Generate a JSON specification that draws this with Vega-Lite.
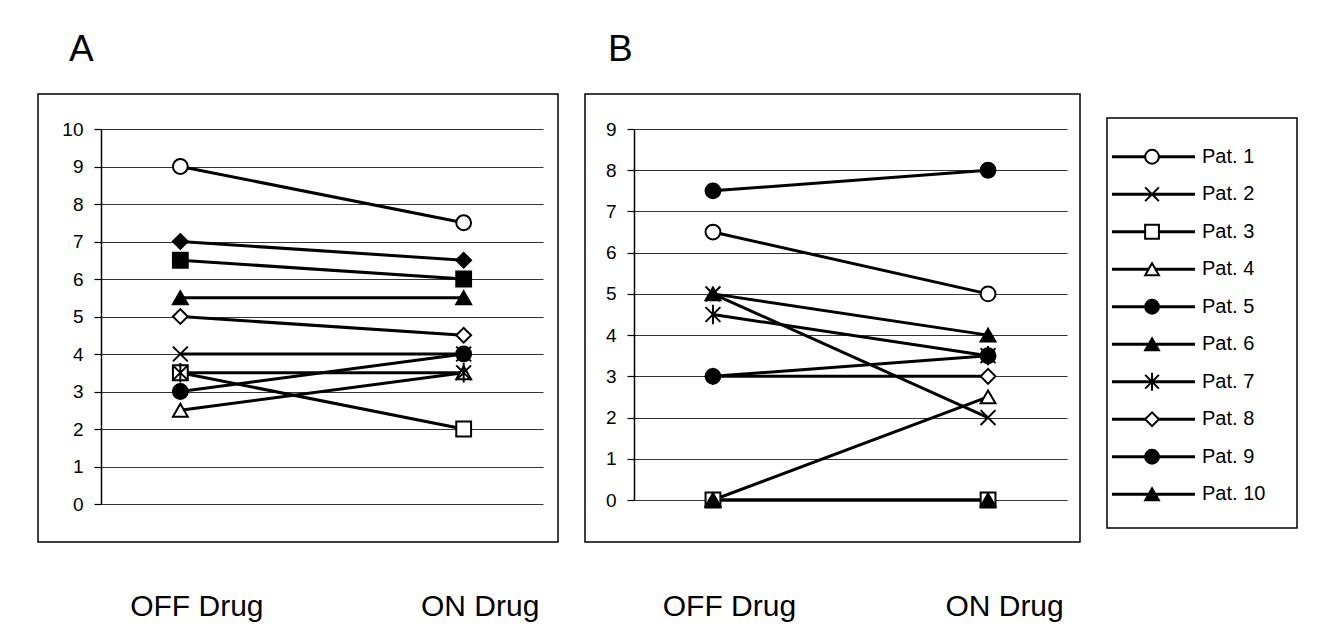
{
  "$schema": "https://vega.github.io/schema/vega-lite/v6.json",
  "padding": {"left": 37, "top": 30, "right": 0, "bottom": 0},
  "background": "white",
  "spacing": 25,
  "config": {
    "font": "Liberation Sans",
    "view": {"stroke": "black", "strokeWidth": 1.5},
    "axis": {"labelFont": "Liberation Sans", "labelColor": "black"},
    "title": {"font": "Liberation Sans", "fontSize": 37, "fontWeight": "normal", "anchor": "start", "frame": "group", "color": "black"}
  },
  "datasets": {
    "scores": [
      {"panel": "A", "patient": "Pat. 1", "condition": "OFF Drug", "score": 9},
      {"panel": "A", "patient": "Pat. 1", "condition": "ON Drug", "score": 7.5},
      {"panel": "A", "patient": "Pat. 2", "condition": "OFF Drug", "score": 4},
      {"panel": "A", "patient": "Pat. 2", "condition": "ON Drug", "score": 4},
      {"panel": "A", "patient": "Pat. 3", "condition": "OFF Drug", "score": 3.5},
      {"panel": "A", "patient": "Pat. 3", "condition": "ON Drug", "score": 2},
      {"panel": "A", "patient": "Pat. 4", "condition": "OFF Drug", "score": 2.5},
      {"panel": "A", "patient": "Pat. 4", "condition": "ON Drug", "score": 3.5},
      {"panel": "A", "patient": "Pat. 5", "condition": "OFF Drug", "score": 3},
      {"panel": "A", "patient": "Pat. 5", "condition": "ON Drug", "score": 4},
      {"panel": "A", "patient": "Pat. 6", "condition": "OFF Drug", "score": 5.5},
      {"panel": "A", "patient": "Pat. 6", "condition": "ON Drug", "score": 5.5},
      {"panel": "A", "patient": "Pat. 7", "condition": "OFF Drug", "score": 3.5},
      {"panel": "A", "patient": "Pat. 7", "condition": "ON Drug", "score": 3.5},
      {"panel": "A", "patient": "Pat. 8", "condition": "OFF Drug", "score": 5},
      {"panel": "A", "patient": "Pat. 8", "condition": "ON Drug", "score": 4.5},
      {"panel": "A", "patient": "Pat. 9", "condition": "OFF Drug", "score": 7},
      {"panel": "A", "patient": "Pat. 9", "condition": "ON Drug", "score": 6.5},
      {"panel": "A", "patient": "Pat. 10", "condition": "OFF Drug", "score": 6.5},
      {"panel": "A", "patient": "Pat. 10", "condition": "ON Drug", "score": 6},
      {"panel": "B", "patient": "Pat. 1", "condition": "OFF Drug", "score": 6.5},
      {"panel": "B", "patient": "Pat. 1", "condition": "ON Drug", "score": 5},
      {"panel": "B", "patient": "Pat. 2", "condition": "OFF Drug", "score": 5},
      {"panel": "B", "patient": "Pat. 2", "condition": "ON Drug", "score": 2},
      {"panel": "B", "patient": "Pat. 3", "condition": "OFF Drug", "score": 0},
      {"panel": "B", "patient": "Pat. 3", "condition": "ON Drug", "score": 0},
      {"panel": "B", "patient": "Pat. 4", "condition": "OFF Drug", "score": 0},
      {"panel": "B", "patient": "Pat. 4", "condition": "ON Drug", "score": 2.5},
      {"panel": "B", "patient": "Pat. 5", "condition": "OFF Drug", "score": 7.5},
      {"panel": "B", "patient": "Pat. 5", "condition": "ON Drug", "score": 8},
      {"panel": "B", "patient": "Pat. 6", "condition": "OFF Drug", "score": 5},
      {"panel": "B", "patient": "Pat. 6", "condition": "ON Drug", "score": 4},
      {"panel": "B", "patient": "Pat. 7", "condition": "OFF Drug", "score": 4.5},
      {"panel": "B", "patient": "Pat. 7", "condition": "ON Drug", "score": 3.5},
      {"panel": "B", "patient": "Pat. 8", "condition": "OFF Drug", "score": 3},
      {"panel": "B", "patient": "Pat. 8", "condition": "ON Drug", "score": 3},
      {"panel": "B", "patient": "Pat. 9", "condition": "OFF Drug", "score": 3},
      {"panel": "B", "patient": "Pat. 9", "condition": "ON Drug", "score": 3.5},
      {"panel": "B", "patient": "Pat. 10", "condition": "OFF Drug", "score": 0},
      {"panel": "B", "patient": "Pat. 10", "condition": "ON Drug", "score": 0}
    ]
  },
  "hconcat": [
    {
      "width": 520,
      "height": 448,
      "title": {"text": "A", "offset": 25, "dx": 31},
      "data": {"name": "scores"},
      "transform": [{"filter": "datum.panel === 'A'"}],
      "encoding": {
        "x": {"field": "condition", "type": "nominal", "sort": ["OFF Drug", "ON Drug"],
              "scale": {"type": "point", "range": [63, 505], "padding": 0.28},
              "axis": {"title": null, "domain": false, "ticks": false, "tickSize": 0, "labelPadding": 49, "labelFontSize": 30, "labelOffset": 16, "labelAngle": 0, "grid": false}},
        "y": {"field": "score", "type": "quantitative",
              "scale": {"domain": [0, 10], "range": [410, 35], "nice": false, "zero": false},
              "axis": {"title": null, "values": [0, 1, 2, 3, 4, 5, 6, 7, 8, 9, 10], "offset": -63, "grid": true, "gridColor": "#333333", "gridWidth": 1, "domainColor": "black", "domainWidth": 1.5, "tickColor": "black", "tickSize": 7, "tickWidth": 1.2, "labelFontSize": 19, "labelPadding": 11}}
      },
      "layer": [
        {"mark": {"type": "line", "stroke": "black", "strokeWidth": 3}, "encoding": {"detail": {"field": "patient"}}},
        {"mark": {"type": "point", "filled": true, "stroke": "black", "strokeWidth": 2, "size": 220, "opacity": 1},
         "encoding": {
           "shape": {"field": "patient", "type": "nominal", "legend": null,
                     "scale": {"domain": ["Pat. 1", "Pat. 2", "Pat. 3", "Pat. 4", "Pat. 5", "Pat. 6", "Pat. 7", "Pat. 8", "Pat. 9", "Pat. 10"],
                               "range": ["circle", "M-1,-1L1,1M1,-1L-1,1", "square", "triangle-up", "circle", "triangle-up", "M-1,-1L1,1M1,-1L-1,1M0,-1.3L0,1.3", "diamond", "diamond", "square"]}},
           "fill": {"field": "patient", "type": "nominal", "legend": null,
                    "scale": {"domain": ["Pat. 1", "Pat. 2", "Pat. 3", "Pat. 4", "Pat. 5", "Pat. 6", "Pat. 7", "Pat. 8", "Pat. 9", "Pat. 10"],
                              "range": ["white", "white", "white", "white", "black", "black", "white", "white", "black", "black"]}}
         }}
      ]
    },
    {
      "width": 495,
      "height": 448,
      "title": {"text": "B", "offset": 25, "dx": 23},
      "data": {"name": "scores"},
      "transform": [{"filter": "datum.panel === 'B'"}],
      "encoding": {
        "x": {"field": "condition", "type": "nominal", "sort": ["OFF Drug", "ON Drug"],
              "scale": {"type": "point", "range": [49, 482], "padding": 0.287},
              "axis": {"title": null, "domain": false, "ticks": false, "tickSize": 0, "labelPadding": 49, "labelFontSize": 30, "labelOffset": 16, "labelAngle": 0, "grid": false}},
        "y": {"field": "score", "type": "quantitative",
              "scale": {"domain": [0, 9], "range": [406, 35], "nice": false, "zero": false},
              "axis": {"title": null, "values": [0, 1, 2, 3, 4, 5, 6, 7, 8, 9], "offset": -49, "grid": true, "gridColor": "#333333", "gridWidth": 1, "domainColor": "black", "domainWidth": 1.5, "tickColor": "black", "tickSize": 7, "tickWidth": 1.2, "labelFontSize": 19, "labelPadding": 11}}
      },
      "layer": [
        {"mark": {"type": "line", "stroke": "black", "strokeWidth": 3}, "encoding": {"detail": {"field": "patient"}}},
        {"mark": {"type": "point", "filled": true, "stroke": "black", "strokeWidth": 2, "size": 220, "opacity": 1},
         "encoding": {
           "shape": {"field": "patient", "type": "nominal", "legend": null,
                     "scale": {"domain": ["Pat. 1", "Pat. 2", "Pat. 3", "Pat. 4", "Pat. 5", "Pat. 6", "Pat. 7", "Pat. 8", "Pat. 9", "Pat. 10"],
                               "range": ["circle", "M-1,-1L1,1M1,-1L-1,1", "square", "triangle-up", "circle", "triangle-up", "M-1,-1L1,1M1,-1L-1,1M0,-1.3L0,1.3", "diamond", "circle", "triangle-up"]}},
           "fill": {"field": "patient", "type": "nominal", "legend": null,
                    "scale": {"domain": ["Pat. 1", "Pat. 2", "Pat. 3", "Pat. 4", "Pat. 5", "Pat. 6", "Pat. 7", "Pat. 8", "Pat. 9", "Pat. 10"],
                              "range": ["white", "white", "white", "white", "black", "black", "white", "white", "black", "black"]}}
         }}
      ]
    },
    {
      "spacing": 22,
      "vconcat": [
        {
          "width": 190,
          "height": 1,
          "view": {"stroke": null},
          "data": {"values": [{}]},
          "mark": {"type": "rule", "opacity": 0},
          "encoding": {}
        },
        {
          "width": 190,
          "height": 410,
          "data": {"name": "scores"},
          "transform": [{"filter": "datum.panel === 'B' && datum.condition === 'OFF Drug'"}],
          "encoding": {
            "y": {"field": "patient", "type": "nominal",
                  "sort": ["Pat. 1", "Pat. 2", "Pat. 3", "Pat. 4", "Pat. 5", "Pat. 6", "Pat. 7", "Pat. 8", "Pat. 9", "Pat. 10"],
                  "scale": {"type": "point", "range": [20, 395]}, "axis": null}
          },
          "layer": [
            {"mark": {"type": "rule", "stroke": "black", "strokeWidth": 3},
             "encoding": {"x": {"datum": 0.026, "type": "quantitative", "scale": {"domain": [0, 1]}, "axis": null}, "x2": {"datum": 0.463}}},
            {"mark": {"type": "point", "filled": true, "stroke": "black", "strokeWidth": 2, "size": 190, "opacity": 1},
             "encoding": {
               "x": {"datum": 0.237, "type": "quantitative"},
               "shape": {"field": "patient", "type": "nominal", "legend": null,
                         "scale": {"domain": ["Pat. 1", "Pat. 2", "Pat. 3", "Pat. 4", "Pat. 5", "Pat. 6", "Pat. 7", "Pat. 8", "Pat. 9", "Pat. 10"],
                                   "range": ["circle", "M-1,-1L1,1M1,-1L-1,1", "square", "triangle-up", "circle", "triangle-up", "M-1,-1L1,1M1,-1L-1,1M0,-1.3L0,1.3", "diamond", "circle", "triangle-up"]}},
               "fill": {"field": "patient", "type": "nominal", "legend": null,
                        "scale": {"domain": ["Pat. 1", "Pat. 2", "Pat. 3", "Pat. 4", "Pat. 5", "Pat. 6", "Pat. 7", "Pat. 8", "Pat. 9", "Pat. 10"],
                                  "range": ["white", "white", "white", "white", "black", "black", "white", "white", "black", "black"]}}
             }},
            {"mark": {"type": "text", "align": "left", "baseline": "middle", "fontSize": 20, "font": "Liberation Sans", "color": "black"},
             "encoding": {"x": {"datum": 0.5, "type": "quantitative"}, "text": {"field": "patient"}}}
          ]
        }
      ]
    }
  ],
  "resolve": {
    "scale": {"x": "independent", "y": "independent", "shape": "independent", "fill": "independent"}
  }
}
